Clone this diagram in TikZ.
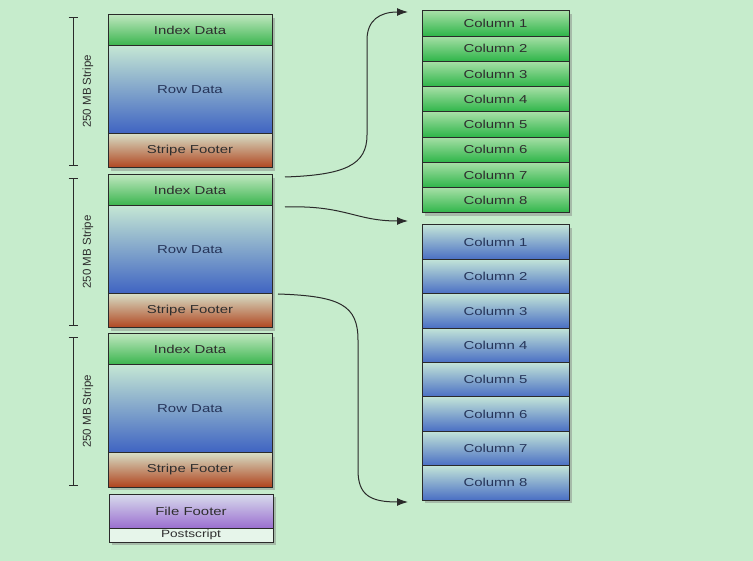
\documentclass[tikz,border=0pt]{standalone}
\usepackage{fontspec}
\setmainfont{Liberation Sans}
\newfontfamily\widesans[FakeStretch=1.3]{Liberation Sans}
\usetikzlibrary{shadows,arrows.meta,calc}
\definecolor{bg}{RGB}{198,236,204}
\definecolor{edge}{HTML}{2A2A2A}
\definecolor{txt}{HTML}{2E2E2E}
\definecolor{txtblue}{HTML}{26355A}
\definecolor{idxtop}{HTML}{BDE6BD}
\definecolor{idxbot}{HTML}{38B44C}
\definecolor{rowtop}{HTML}{C4E6D4}
\definecolor{rowbot}{HTML}{3E63C2}
\definecolor{foottop}{HTML}{D6DCC4}
\definecolor{footbot}{HTML}{B0441E}
\definecolor{fftop}{HTML}{D8DCEC}
\definecolor{ffbot}{HTML}{9B6FD0}
\definecolor{psfill}{HTML}{E6F5EA}
\definecolor{gctop}{HTML}{A6DFA6}
\definecolor{gcbot}{HTML}{2DB548}
\definecolor{bctop}{HTML}{C2E4D8}
\definecolor{bcbot}{HTML}{4A6FC4}
\begin{document}
\begin{tikzpicture}[x=1pt,y=-1pt,
  part/.style={draw=edge, line width=1pt, inner sep=0pt, outer sep=0pt,
    minimum width=164pt, anchor=north, text=txt,
    font=\widesans\fontsize{11.5}{13}\selectfont,
    drop shadow={opacity=0.45,shadow xshift=2.5pt,shadow yshift=-3pt}},
  idxbox/.style={part, minimum height=31pt, top color=idxtop, bottom color=idxbot},
  rowbox/.style={part, minimum height=88pt, top color=rowtop, bottom color=rowbot, text=txtblue},
  footbox/.style={part, minimum height=34pt, top color=foottop, bottom color=footbot},
  ffbox/.style={part, minimum height=34pt, top color=fftop, bottom color=ffbot},
  psbox/.style={part, minimum height=14pt, fill=psfill, font=\widesans\fontsize{10.5}{11}\selectfont},
  gcol/.style={part, minimum width=147pt, minimum height=25.25pt, top color=gctop, bottom color=gcbot},
  bcol/.style={part, minimum width=147pt, minimum height=34.375pt, top color=bctop, bottom color=bcbot, text=txtblue},
  brk/.style={draw=edge, line width=0.8pt, {Bar[width=9pt]}-{Bar[width=9pt]}},
  brklabel/.style={midway, xshift=15pt, rotate=90, text=txt, font=\fontsize{11.5}{13}\selectfont},
  conn/.style={draw=edge, line width=1pt, -{Latex[length=11pt,width=8pt]}}]

\fill[bg] (0,0) rectangle (753,561);
\useasboundingbox (0,0) rectangle (753,561);

% stripes
\node[idxbox] (s1i) at (190,15) {Index Data};
\node[rowbox] (s1r) at (s1i.south) {Row Data};
\node[footbox] (s1f) at (s1r.south) {Stripe Footer};

\node[idxbox] (s2i) at (190,175) {Index Data};
\node[rowbox] (s2r) at (s2i.south) {Row Data};
\node[footbox] (s2f) at (s2r.south) {Stripe Footer};

\node[idxbox] (s3i) at (190,334) {Index Data};
\node[rowbox] (s3r) at (s3i.south) {Row Data};
\node[footbox] (s3f) at (s3r.south) {Stripe Footer};

\node[ffbox] (ff) at (191,494) {File Footer};
\node[psbox] (ps) at (ff.south) {\raisebox{-1pt}{Postscript}};

% brackets
\coordinate (b1t) at (73,17);  \coordinate (b1b) at (73,166);
\coordinate (b2t) at (73,178); \coordinate (b2b) at (73,326);
\coordinate (b3t) at (73,337); \coordinate (b3b) at (73,486);
\draw[brk] (b1t) -- (b1b) node[brklabel] (l1) {250 MB Stripe};
\draw[brk] (b2t) -- (b2b) node[brklabel] (l2) {250 MB Stripe};
\draw[brk] (b3t) -- (b3b) node[brklabel] (l3) {250 MB Stripe};

% green columns
\node[gcol] (g1) at (495.5,11) {Column 1};
\node[gcol] (g2) at (g1.south) {Column 2};
\node[gcol] (g3) at (g2.south) {Column 3};
\node[gcol] (g4) at (g3.south) {Column 4};
\node[gcol] (g5) at (g4.south) {Column 5};
\node[gcol] (g6) at (g5.south) {Column 6};
\node[gcol] (g7) at (g6.south) {Column 7};
\node[gcol] (g8) at (g7.south) {Column 8};

% blue columns
\node[bcol] (c1) at (495.5,225) {Column 1};
\node[bcol] (c2) at (c1.south) {Column 2};
\node[bcol] (c3) at (c2.south) {Column 3};
\node[bcol] (c4) at (c3.south) {Column 4};
\node[bcol] (c5) at (c4.south) {Column 5};
\node[bcol] (c6) at (c5.south) {Column 6};
\node[bcol] (c7) at (c6.south) {Column 7};
\node[bcol] (c8) at (c7.south) {Column 8};

% connectors
\coordinate (a1s) at ($(s2i.north east)+(13,2)$);
\coordinate (a2s) at ($(s2i.south east)+(13,1)$);
\coordinate (a3s) at ($(s2f.north east)+(6,0)$);
\coordinate (a1e) at ($(g1.north west)+(-14,1)$);
\coordinate (a2e) at ($(c1.north west)+(-14,-4)$);
\coordinate (a3e) at ($(c8.south west)+(-14,2)$);

\draw[conn] (a1s) .. controls (345,175) and (367,165) .. (367,135)
  -- (367,40) .. controls (367,20) and (380,12) .. (a1e);
\draw[conn] (a2s) .. controls (345,205) and (355,221) .. (a2e);
\draw[conn] (a3s) .. controls (340,296) and (358,305) .. (358,340)
  -- (358,470) .. controls (358,495) and (370,502) .. (a3e);
\end{tikzpicture}
\end{document}
